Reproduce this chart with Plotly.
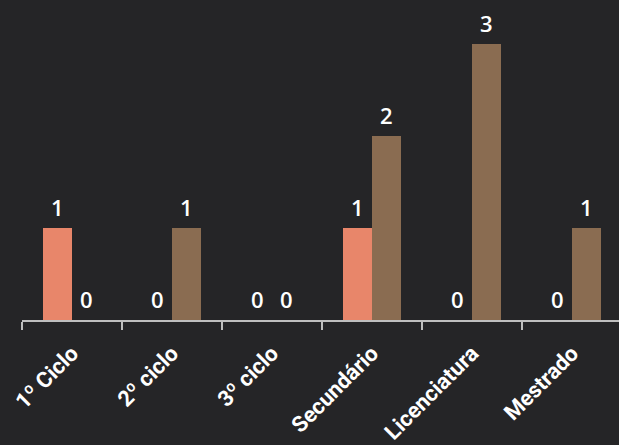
import plotly.graph_objects as go

categorias = ["1º Ciclo", "2º ciclo", "3º ciclo", "Secundário", "Licenciatura", "Mestrado"]
serie_a = [1, 0, 0, 1, 0, 0]
serie_b = [0, 1, 0, 2, 3, 1]

cor_a = "#E8866A"
cor_b = "#8A6C51"
fundo = "#252527"
bargap = 0.42
meia_barra = (1 - bargap) / 4  # half of one bar's width, in category units

fig = go.Figure()
for valores, cor in ((serie_a, cor_a), (serie_b, cor_b)):
    fig.add_trace(go.Bar(
        x=categorias, y=valores,
        marker=dict(color=cor, line=dict(width=0)),
    ))

# value labels above each bar
for lado, valores in ((-1, serie_a), (1, serie_b)):
    for i, v in enumerate(valores):
        fig.add_annotation(
            x=i + lado * meia_barra, y=v, xref="x", yref="y",
            text=str(v), showarrow=False, yanchor="bottom", yshift=4,
            font=dict(family="Open Sans", size=22, color="white", weight=600),
        )

fig.update_layout(
    width=619, height=445,
    paper_bgcolor=fundo, plot_bgcolor=fundo,
    margin=dict(l=22, r=0, t=20, b=125),
    barmode="group", bargap=bargap, bargroupgap=0,
    showlegend=False,
    xaxis=dict(
        range=[-0.5, 5.47],
        tickson="boundaries", ticks="outside", ticklen=8, tickwidth=1.5,
        tickcolor="#BFBFBF", showline=True, linecolor="#BFBFBF", linewidth=1.5,
        tickangle=-45, ticklabelstandoff=10,
        tickfont=dict(family="Roboto", size=22, color="white", weight="bold"),
        showgrid=False, zeroline=False,
    ),
    yaxis=dict(range=[0, 3.26], visible=False, showgrid=False, zeroline=False),
)

fig.write_html("out.html")
